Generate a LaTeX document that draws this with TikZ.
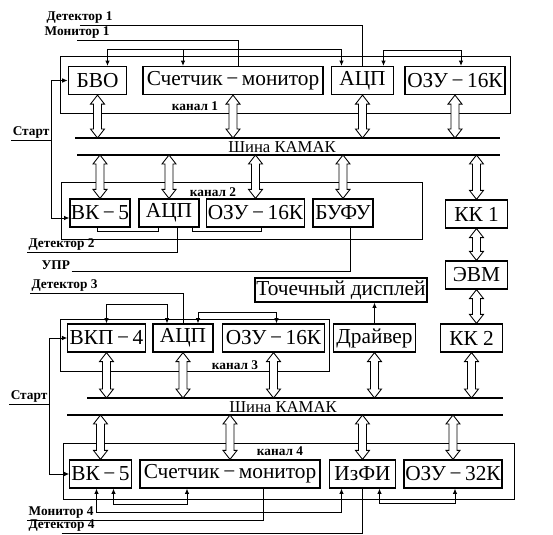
\documentclass[tikz,border=0pt]{standalone}
\usepackage{fontspec}
\setmainfont{Liberation Serif}
\usepackage{tikz}
\usetikzlibrary{arrows.meta}
\usetikzlibrary{calc}

\tikzset{
  blok/.style={draw, line width=0.9pt, inner sep=0pt, minimum height=21pt, font=\fontsize{16}{18}\selectfont},
  ramka/.style={line width=0.65pt},
  shina/.style={line width=1.1pt},
  metka/.style={inner sep=1pt, font=\fontsize{10}{11}\selectfont\bfseries},
  dvoin/.style={draw, fill=white, line width=0.65pt, to path={
      (\tikztostart) -- ++(7,9) -- ++(-3,0) -- ($(\tikztotarget)+(4,-9)$) -- ++(3,0)
      -- (\tikztotarget) -- ++(-7,-9) -- ++(3,0) -- ($(\tikztostart)+(-4,9)$) -- ++(-3,0) -- cycle}},
  provod/.style={line width=0.7pt},
  sig/.style={provod, -{Latex[length=4pt,width=3.5pt]}},
  sigd/.style={provod, {Latex[length=4pt,width=3.5pt]}-{Latex[length=4pt,width=3.5pt]}}
}

\begin{document}
\begin{tikzpicture}[x=0.75pt,y=0.75pt,yscale=-1,xscale=1]
\useasboundingbox (0,0) rectangle (553,535);

%Shape: Rectangle (channel frames)
\draw[ramka] (60,56) rectangle (510,113);
\draw[ramka] (61,182) rectangle (422,239);
\draw[ramka] (60,319) rectangle (329,371);
\draw[ramka] (63,443) rectangle (514,499);

% Text Node (channel 1)
\node[blok, minimum width=44pt] (bvo) at (97.5,80.5) {БВО};
\node[blok, minimum width=135pt] (sch1) at (233,80.5) {Счетчик\,−\,монитор};
\node[blok, minimum width=46pt] (adc1) at (362.5,80.5) {АЦП};
\node[blok, minimum width=75pt] (ram1) at (455,80.5) {ОЗУ\,−\,16К};
\node[metka] (kan1) at (195,106) {канал 1};

% Text Node (channel 2)
\node[blok, minimum width=45pt] (vk2) at (100,213) {ВК\,−\,5};
\node[blok, minimum width=45pt] (adc2) at (169,213) {АЦП};
\node[blok, minimum width=73pt] (ram2) at (255.5,213) {ОЗУ\,−\,16К};
\node[blok, minimum width=45pt] (bufu) at (343,213) {БУФУ};
\node[metka] (kan2) at (213,192) {канал 2};

% Text Node (computer)
\node[blok, minimum width=46pt] (kk1) at (476.5,214) {КК 1};
\node[blok, minimum width=46pt] (evm) at (476.5,275) {ЭВМ};
\node[blok, minimum width=46pt] (kk2) at (471.5,338) {КК 2};

% Text Node (channel 3)
\node[blok, minimum width=58pt] (vkp) at (106.5,338) {ВКП\,−\,4};
\node[blok, minimum width=45pt] (adc3) at (183,338) {АЦП};
\node[blok, minimum width=77pt] (ram3) at (273.5,338) {ОЗУ\,−\,16К};
\node[blok, minimum width=62pt] (drv) at (374.5,338) {Драйвер};
\node[blok, minimum width=129pt, minimum height=18pt] (disp) at (341,290) {Точечный дисплей};
\node[metka] (kan3) at (235,365) {канал 3};

% Text Node (channel 4)
\node[blok, minimum width=46pt] (vk4) at (100.5,474) {ВК\,−\,5};
\node[blok, minimum width=135pt] (sch4) at (230,474) {Счетчик\,−\,монитор};
\node[blok, minimum width=50pt] (izfi) at (362.5,474) {ИзФИ};
\node[blok, minimum width=73.5pt] (ram4) at (453,474) {ОЗУ\,−\,32К};
\node[metka] (kan4) at (280,451) {канал 4};

%Straight Lines (CAMAC buses)
\coordinate (b1t) at (0,138);
\coordinate (b1b) at (0,155);
\coordinate (b2t) at (0,398);
\coordinate (b2b) at (0,415);
\draw[shina] (75,138) -- (500,138);
\draw[shina] (77,155) -- (500,155);
\node[font=\fontsize{12.5}{14}\selectfont, inner sep=0pt] (kamak1) at (282,147) {Шина КАМАК};
\draw[shina] (87,398) -- (503,398);
\draw[shina] (67,415) -- (503,415);
\node[font=\fontsize{12.5}{14}\selectfont, inner sep=0pt] (kamak2) at (283,407) {Шина КАМАК};

% Double arrows to the buses (upper end first)
\draw[dvoin] (bvo.south) to (bvo.south |- b1t);
\draw[dvoin] (sch1.south) to (sch1.south |- b1t);
\draw[dvoin] (adc1.south) to (adc1.south |- b1t);
\draw[dvoin] (ram1.south) to (ram1.south |- b1t);
\draw[dvoin] (vk2.north |- b1b) to (vk2.north);
\draw[dvoin] (adc2.north |- b1b) to (adc2.north);
\draw[dvoin] (ram2.north |- b1b) to (ram2.north);
\draw[dvoin] (bufu.north |- b1b) to (bufu.north);
\draw[dvoin] (kk1.north |- b1b) to (kk1.north);
\draw[dvoin] (kk1.south) to (evm.north);
\draw[dvoin] (evm.south) to (evm.south |- kk2.north);
\draw[dvoin] (vkp.south) to (vkp.south |- b2t);
\draw[dvoin] (adc3.south) to (adc3.south |- b2t);
\draw[dvoin] (ram3.south) to (ram3.south |- b2t);
\draw[dvoin] (drv.south) to (drv.south |- b2t);
\draw[dvoin] (kk2.south) to (kk2.south |- b2t);
\draw[dvoin] (vk4.north |- b2b) to (vk4.north);
\draw[dvoin] (sch4.north |- b2b) to (sch4.north);
\draw[dvoin] (izfi.north |- b2b) to (izfi.north);
\draw[dvoin] (ram4.north |- b2b) to (ram4.north);

% Text Node (inputs)
\node[metka, anchor=south west] (det1) at (45,25) {Детектор 1};
\node[metka, anchor=south west] (mon1) at (43,40) {Монитор 1};
\node[metka, anchor=south east] (start1) at (51,140) {Старт};
\node[metka, anchor=south west] (det2) at (27,252) {Детектор 2};
\node[metka, anchor=south west] (upr) at (40,271) {УПР};
\node[metka, anchor=south west] (det3) at (30,293) {Детектор 3};
\node[metka, anchor=south east] (start2) at (49,404) {Старт};
\node[metka, anchor=south west] (mon4) at (27,520) {Монитор 4};
\node[metka, anchor=south west] (det4) at (27,533) {Детектор 4};

%Straight Lines (signals)
\draw[provod] (det1.south) -| (adc1.north);
\draw[provod] (mon1.south) -| ($(sch1.north)+(5,0)$);
\draw[sigd] ($(bvo.north)+(10,0)$) -- ++(0,-16) -| ($(adc1.north)+(-21,0)$);
\draw[sig] ($(sch1.north)+(-50,-16)$) -- ($(sch1.north)+(-50,0)$);
\draw[sigd] ($(adc1.north)+(21,0)$) -- ++(0,-15) -| ($(ram1.north)+(6,0)$);

\draw[provod] (start1.south west) -- (start1.south east);
\draw[sig] (start1.south east) |- (bvo.west);
\draw[sig] (start1.south east) |- ($(vk2.west)+(0,5)$);

\draw[provod] ($(vk2.south)+(-3,0)$) -- ++(0,4) -| ($(adc2.south)+(-11,0)$);
\draw[provod] ($(adc2.south)+(23,0)$) -- ++(0,4) -| ($(ram2.south)+(6,0)$);
\draw[provod] (det2.south west) -| ($(adc2.south)+(8,0)$);
\draw[provod] (upr.south east) -| ($(bufu.south)+(7,0)$);

\draw[provod] (det3.south west) -| (adc3.north);
\draw[sigd] (vkp.north) -- ++(0,-19) -| ($(adc3.north)+(-16,0)$);
\draw[sigd] ($(adc3.north)+(15,0)$) -- ++(0,-11) -| ($(ram3.north)+(3,0)$);
\draw[sig] (drv.north) -- (drv.north |- disp.south);

\draw[provod] (start2.south west) -- (start2.south east);
\draw[sig] (start2.south east) |- (vkp.west);
\draw[sig] (start2.south east) |- (vk4.west);

\draw[sigd] ($(vk4.south)+(13,0)$) -- ++(0,16) -| ($(sch4.south)+(-43,0)$);
\draw[sigd] ($(vk4.south)+(-4,0)$) -- ++(0,24) -| ($(izfi.south)+(-21,0)$);
\draw[sigd] ($(izfi.south)+(17,0)$) -- ++(0,15) -| ($(ram4.south)+(2,0)$);
\draw[provod] (mon4.south west) -| ($(sch4.south)+(33,0)$);
\draw[provod] (det4.south) -| (izfi.south);

\end{tikzpicture}
\end{document}
